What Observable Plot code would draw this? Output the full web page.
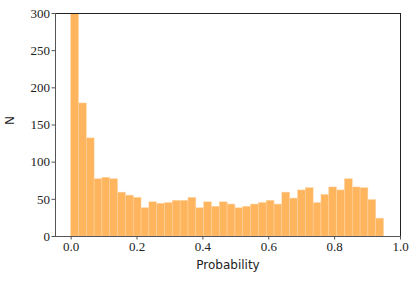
<!DOCTYPE html>
<html>
<head>
<meta charset="utf-8">
<script src="https://cdn.jsdelivr.net/npm/d3@7"></script>
<script src="https://cdn.jsdelivr.net/npm/@observablehq/plot@0.6"></script>
<style>
  html, body { margin: 0; padding: 0; background: #fff; }
</style>
</head>
<body>
<div id="chart"></div>
<script>
// Histogram counts (40 bins from 0 to 0.95); the first bin is clipped at the top of the axes
const counts = [300, 179, 132, 77, 79, 77, 59, 55, 52, 38,
                46, 44, 45, 48, 48, 52, 38, 46, 40, 46,
                43, 38, 40, 43, 45, 48, 43, 59, 51, 62,
                65, 45, 56, 66, 62, 77, 66, 65, 49, 24];
const binMin = 0;
const binMax = 0.95;
const xTicks = [0.0, 0.2, 0.4, 0.6, 0.8, 1.0];
const yTicks = [0, 50, 100, 150, 200, 250, 300];
const xLabel = "Probability";
const yLabel = "N";

const bw = (binMax - binMin) / counts.length;
const bins = counts.map((n, i) => ({x1: binMin + i * bw, x2: binMin + (i + 1) * bw, n}));

const serif = "'Liberation Serif', 'DejaVu Serif', serif";
const sans = "'DejaVu Sans', 'Noto Sans', sans-serif";
const xDom = [-0.0475, 1.0];
const yDom = [0, 300];

const chart = Plot.plot({
  width: 416,
  height: 282,
  marginLeft: 55,
  marginRight: 16,
  marginTop: 13,
  marginBottom: 46,
  style: {background: "#fff", overflow: "visible"},
  x: {domain: xDom},
  y: {domain: yDom},
  marks: [
    Plot.rectY(bins, {x1: "x1", x2: "x2", y: "n", fill: "#ffb45e", stroke: "#ffd5a3", strokeWidth: 0.5, clip: true}),
    Plot.ruleX([xDom[1]], {stroke: "#222", strokeWidth: 1}),
    Plot.ruleY([yDom[1]], {stroke: "#222", strokeWidth: 1}),
    Plot.ruleX([xDom[0]], {stroke: "#555", strokeWidth: 1}),
    Plot.ruleY([yDom[0]], {stroke: "#555", strokeWidth: 1}),
    Plot.axisX({ticks: xTicks, tickFormat: d3.format(".1f"), tickSize: 3.5, tickPadding: 2, label: null, stroke: "#555", fontFamily: serif, fontSize: 13, fill: "#222"}),
    Plot.axisY({ticks: yTicks, tickFormat: d => String(d), tickSize: 3.5, tickPadding: 2, label: null, stroke: "#555", fontFamily: serif, fontSize: 13, fill: "#222"}),
    Plot.text([xLabel], {frameAnchor: "bottom", dy: 32, fontSize: 12, fontFamily: sans, fill: "#222"}),
    Plot.text([yLabel], {frameAnchor: "left", dx: -45, rotate: -90, fontSize: 12, fontFamily: sans, fill: "#222"})
  ]
});
document.getElementById("chart").appendChild(chart);
</script>
</body>
</html>
